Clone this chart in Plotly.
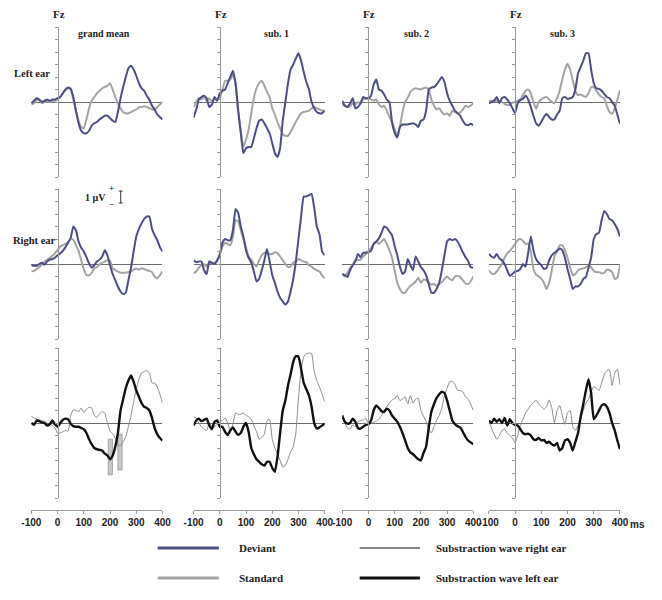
import plotly.graph_objects as go

# time axis, ms (10 ms steps)
t = list(range(-100, 401, 10))

# ---- Left ear: deviant / standard (µV)
gm_left_dev = [-0.1, 0.1, 0.3, 0.2, 0.0, 0.1, 0.2, 0.1, 0.2, 0.2, 0.3,
               0.4, 0.7, 1.0, 1.15, 1.05, 0.4, -0.7, -1.7, -2.3, -2.5,
               -2.5, -2.3, -1.9, -1.7, -1.6, -1.4, -1.25, -1.1, -1.1, -1.3,
               -1.5, -1.6, -0.8, 0.3, 1.2, 2.0, 2.7, 2.9, 2.6, 2.1,
               1.5, 1.1, 0.9, 0.5, 0.2, -0.3, -0.6, -1.0, -1.2, -1.4]
gm_left_std = [-0.2, -0.1, 0.2, 0.1, -0.1, 0.0, 0.1, 0.0, 0.1, 0.1, 0.2,
               0.4, 0.7, 0.95, 1.1, 1.0, 0.2, -0.7, -1.5, -2.0, -2.1,
               -1.4, -0.5, 0.1, 0.4, 0.7, 0.9, 1.1, 1.2, 1.3, 1.5,
               1.0, 0.4, -0.1, -0.5, -0.8, -0.9, -0.9, -0.8, -0.7, -0.6,
               -0.45, -0.4, -0.35, -0.4, -0.5, -0.6, -0.65, -0.4, -0.2, 0.0]
s1_left_dev = [-1.25, -0.6, 0.2, 0.4, 0.5, 0.3, -0.4, -0.2, 0.4, 0.1, 0.7,
               0.9, 1.0, 1.5, 2.0, 2.5, 1.5, -0.6, -2.5, -4.1, -3.7,
               -3.6, -3.6, -2.9, -2.1, -1.5, -1.4, -1.7, -2.1, -2.5, -3.3,
               -4.1, -4.4, -3.7, -1.5, 0.0, 1.5, 2.6, 3.0, 3.5, 3.9,
               3.3, 2.4, 1.6, 1.0, 0.0, -0.5, -0.8, -0.9, -0.9, -0.7]
s1_left_std = [-0.4, 0.0, 0.3, 0.2, 0.4, 0.1, 0.3, 0.0, 0.3, 0.2, 0.3,
               1.0, 1.7, 1.7, 1.8, 2.2, 1.5, -0.8, -2.3, -3.6, -3.0,
               -2.2, -0.9, 0.35, 1.1, 1.5, 1.7, 1.3, 0.8, 0.4, -0.5,
               -1.0, -1.6, -2.1, -2.6, -2.7, -2.7, -2.4, -2.0, -1.6, -1.2,
               -0.9, -0.8, -0.75, -0.7, -0.5, -0.4, -0.5, -0.6, -0.7, -0.7]
s2_left_dev = [0.1, -0.3, -0.4, -0.1, 0.3, -0.5, -0.4, -0.1, 0.4, 0.3, 0.3,
               0.5, 1.4, 1.8, 1.0, 0.9, 0.6, 0.2, 0.0, -1.6, -2.45,
               -2.85, -2.0, -1.8, -1.8, -1.8, -1.75, -1.7, -1.8, -2.0, -1.5,
               -1.4, -0.7, 1.0, 1.15, 1.2, 1.4, 1.7, 2.0, 1.6, 0.7,
               0.1, -0.3, -0.7, -0.9, -1.1, -1.5, -1.8, -1.85, -1.75, -1.85]
s2_left_std = [-0.2, -0.3, -0.4, -0.35, -0.1, -0.2, 0.0, -0.1, 0.2, 0.3, 0.3,
               0.2, 0.1, 0.2, -0.2, -0.4, -0.3, -0.7, -1.2, -1.6, -2.2,
               -2.7, -2.0, -0.8, 0.0, 0.35, 0.8, 1.0, 1.1, 1.05, 1.0,
               1.1, 1.15, 1.0, 0.2, -0.3, -0.6, -0.5, -0.8, -1.0, -0.9,
               -1.1, -0.7, -0.8, -0.9, -0.85, -0.6, -0.3, -0.4, -0.3, -0.1]
s3_left_dev = [-0.1, 0.0, 0.1, 0.4, -0.1, 0.3, 0.4, 0.2, -0.1, -0.5, -0.9,
               -0.1, 0.15, 0.25, 0.5, 0.2, -0.4, -1.1, -1.7, -1.9, -1.6,
               -1.2, -0.95, -1.2, -1.4, -1.4, -1.0, -0.7, 0.3, 0.4, 0.25,
               0.3, 0.4, 1.0, 2.3, 2.8, 3.3, 3.9, 3.9, 2.6, 1.5,
               1.1, 1.05, 0.9, 0.65, 0.4, 0.3, 0.0, -0.3, -1.0, -1.75]
s3_left_std = [0.1, 0.1, 0.1, 0.1, 0.1, 0.0, -0.15, -0.25, -0.2, -0.05, 0.0,
               0.1, 0.2, 0.55, 0.9, 1.0, 0.7, 0.0, -0.55, 0.0, 0.2,
               0.35, 0.4, 0.2, 0.0, -0.1, 0.3, 0.9, 1.8, 2.6, 3.05,
               2.6, 1.75, 0.9, 0.55, 0.6, 0.5, 0.4, 0.7, 1.2, 1.2,
               0.9, 0.6, 0.4, 0.3, -0.3, -0.8, -0.95, -0.5, 0.2, 0.95]

# ---- Right ear: deviant / standard
gm_right_dev = [-0.1, -0.15, -0.15, 0.0, 0.1, -0.05, 0.2, 0.35, 0.4, 0.5, 0.7,
                0.85, 1.05, 1.35, 1.7, 2.1, 3.0, 2.7, 1.8, 1.3, 1.0,
                0.55, 0.05, -0.3, -0.1, 0.2, 0.35, 0.6, 1.1, 0.7, -0.1,
                -0.8, -1.3, -1.8, -2.2, -2.4, -2.3, -1.3, -0.3, 1.0, 2.2,
                2.8, 3.25, 3.6, 3.8, 3.8, 2.8, 2.3, 1.9, 1.35, 1.0]
gm_right_std = [-0.6, -0.55, -0.4, -0.25, -0.05, 0.2, 0.35, 0.5, 0.65, 0.85, 1.1,
                1.4, 1.5, 1.6, 1.75, 2.0, 1.95, 1.5, 1.05, 0.3, -0.4,
                -0.9, -0.9, -0.7, -0.35, -0.25, -0.05, 0.1, 0.2, 0.3, 0.25,
                -0.35, -0.5, -0.6, -0.7, -0.7, -0.7, -0.65, -0.6, -0.45, -0.35,
                -0.45, -0.35, -0.4, -0.5, -0.55, -0.65, -1.0, -1.15, -0.9, -0.6]
s1_right_dev = [0.3, 0.15, 0.2, 0.2, -0.5, -0.8, 0.2, 0.1, 0.0, 0.3, 0.8,
                1.7, 2.0, 1.9, 1.9, 2.7, 4.4, 4.1, 3.0, 2.2, 1.1,
                0.5, 0.1, -0.6, -1.4, -1.2, -0.5, 0.3, 1.2, 0.2, -0.9,
                -1.5, -2.2, -2.7, -3.0, -3.25, -3.0, -2.2, -1.2, 0.2, 2.0,
                3.8, 5.4, 5.4, 5.5, 5.6, 4.5, 3.0, 2.4, 1.0, 0.7]
s1_right_std = [-0.75, -0.6, -0.3, -0.1, 0.0, -0.2, 0.1, 0.05, 0.1, 0.25, 0.7,
                1.4, 1.7, 1.6, 1.5, 2.15, 3.5, 3.4, 2.7, 2.0, 1.3,
                0.6, 0.35, 0.0, -0.2, 0.3, 0.7, 0.9, 0.9, 0.8, 0.8,
                0.95, 0.85, 0.6, 0.3, 0.0, -0.25, -0.2, 0.1, 0.2, 0.4,
                0.3, 0.2, 0.15, -0.1, -0.2, -0.4, -0.5, -0.6, -0.9, -1.15]
s2_right_dev = [-0.8, -0.9, -1.05, -0.5, -0.1, 0.2, 0.8, 0.55, 0.9, 0.9, 0.95,
                1.05, 1.6, 1.8, 2.05, 2.5, 3.0, 2.9, 2.6, 2.3, 1.45,
                0.7, -0.2, -0.8, -0.6, 0.4, -0.1, -0.5, 0.6, 0.2, -0.25,
                -0.5, -0.9, -1.6, -2.3, -2.3, -2.0, -1.5, -0.5, 0.7, 1.8,
                2.0, 1.9, 2.0, 1.8, 1.4, 0.95, 0.55, 0.25, -0.25, -0.3]
s2_right_std = [-0.8, -1.0, -0.7, -0.3, -0.1, 0.35, 0.3, 0.35, 0.6, 0.8, 1.05,
                1.3, 1.6, 1.8, 1.6, 1.8, 2.0, 1.6, 1.1, 0.5, -0.5,
                -1.5, -2.0, -2.3, -2.3, -2.0, -1.75, -1.6, -1.4, -1.1, -1.5,
                -1.25, -1.3, -1.5, -1.65, -1.6, -1.75, -1.6, -1.45, -1.2, -1.0,
                -1.2, -1.3, -1.0, -0.95, -1.05, -1.3, -1.55, -1.6, -1.4, -1.0]
s3_right_dev = [0.8, 0.6, 0.5, 0.8, 0.45, 0.3, 0.0, -0.5, -0.95, -0.8, -0.6,
                -0.55, -0.4, 0.0, -0.2, 0.9, 2.2, 1.1, 0.4, 0.1, -0.1,
                -0.4, -0.3, 0.3, 0.7, 0.9, 1.05, 1.25, 1.1, 0.5, -0.4,
                -1.2, -2.0, -1.8, -1.8, -1.6, -1.2, -1.05, -0.3, 0.5, 2.0,
                2.4, 2.5, 3.5, 4.25, 4.0, 3.6, 3.5, 3.2, 2.8, 2.2]
s3_right_std = [-0.5, -0.75, -0.8, -0.6, -0.3, 0.0, 0.5, 0.85, 1.05, 1.3, 1.6,
                1.9, 2.0, 1.85, 1.6, 1.65, 1.0, -0.4, -0.85, -1.0, -1.15,
                -1.5, -2.0, -1.5, -0.5, 0.6, 1.05, 1.5, 1.5, 1.1, 0.5,
                -0.3, -0.9, -0.8, -0.5, -0.4, -0.35, -0.25, -0.15, -0.25, -0.55,
                -0.65, -0.65, -0.75, -0.7, -0.45, -0.5, -0.65, -1.2, -1.1, -0.1]

# ---- Subtraction waves: right ear (thin) / left ear (thick)
gm_diff_right = [0.55, 0.4, 0.3, 0.25, 0.2, 0.15, 0.0, -0.1, -0.2, -0.4, -0.8,
                 -0.8, -0.7, -0.6, -0.65, 0.6, 1.05, 1.0, 0.9, 1.2, 0.85,
                 1.1, 1.25, 1.2, 0.6, 0.45, 0.75, 0.9, 0.8, 0.0, -0.65,
                 -0.85, -1.2, -1.75, -1.85, -1.5, -1.1, -0.3, 0.6, 1.7, 2.7,
                 3.5, 4.0, 4.1, 4.2, 4.0, 3.2, 3.2, 2.9, 2.3, 1.6]
gm_diff_left = [0.0, -0.15, 0.2, 0.15, 0.05, 0.0, -0.2, -0.1, 0.2, -0.1, -0.3,
                0.0, 0.25, 0.35, 0.3, -0.05, -0.25, -0.3, -0.3, -0.4, -0.5,
                -0.8, -1.3, -1.7, -2.0, -2.1, -2.15, -2.2, -2.45, -2.6, -2.9,
                -2.6, -1.9, -0.8, 1.0, 1.9, 2.8, 3.4, 3.8, 3.3, 2.6,
                2.1, 1.6, 1.3, 1.2, 1.0, 0.4, -0.4, -0.9, -1.2, -1.4]
s1_diff_right = [0.5, 0.4, 0.0, -0.3, -0.5, -0.6, 0.0, -0.3, -0.3, -0.1, 0.1,
                 0.2, 0.4, 0.0, -0.6, -0.1, 0.8, 0.7, 0.7, 0.8, 0.6,
                 0.5, 0.3, -0.2, -0.7, -1.3, -1.15, -0.9, 0.2, 0.3, -1.3,
                 -2.0, -2.5, -3.0, -3.5, -3.4, -2.9, -2.3, -1.9, -0.8, 2.0,
                 4.2, 5.3, 5.55, 5.6, 5.55, 4.1, 3.4, 2.9, 2.3, 1.7]
s1_diff_left = [-0.2, 0.2, 0.35, 0.15, 0.25, 0.35, -0.2, -0.5, 0.1, 0.2, -0.3,
                -0.3, -0.7, -0.95, -0.6, -0.35, -0.7, -0.95, -0.8, -0.3, 0.0,
                -0.7, -2.0, -2.5, -2.9, -3.1, -3.3, -3.4, -3.1, -3.1, -3.6,
                -3.9, -2.7, -0.8, 1.0, 1.8, 3.0, 3.9, 4.9, 5.35, 5.3,
                4.35, 3.2, 2.7, 2.2, 1.3, 0.0, -0.45, -0.35, -0.2, -0.05]
s2_diff_right = [0.35, 0.0, -0.4, -0.5, -0.15, -0.3, 0.1, 0.2, 0.25, 0.4, -0.05,
                 0.0, 0.05, 0.15, 0.3, 0.6, 1.0, 1.3, 1.6, 1.85, 1.95,
                 2.2, 1.8, 1.9, 2.1, 1.55, 2.2, 1.6, 1.9, 2.0, 1.0,
                 0.55, 0.1, -0.5, -0.8, -0.3, 0.2, 0.6, 1.2, 2.2, 2.8,
                 3.3, 3.35, 3.1, 2.6, 2.6, 2.5, 2.1, 1.95, 1.5, 1.0]
s2_diff_left = [0.6, 0.1, -0.05, 0.0, 0.35, 0.1, -0.4, -0.45, -0.3, -0.15, -0.1,
                0.2, 1.0, 1.4, 1.2, 0.95, 0.9, 1.15, 1.0, 0.6, 0.35,
                0.1, -0.3, -0.8, -1.4, -2.0, -2.35, -2.5, -2.7, -2.9, -3.0,
                -2.4, -1.9, -0.4, 0.9, 1.5, 2.0, 2.3, 2.5, 2.4, 1.8,
                1.0, 0.2, -0.1, -0.25, -0.35, -0.7, -1.1, -1.4, -1.55, -1.7]
s3_diff_right = [0.2, -0.4, -0.9, -1.3, -1.0, -0.6, -0.5, -0.8, -1.0, -1.2, -1.6,
                 -1.0, -0.2, 0.3, 0.8, 1.1, 1.45, 1.6, 1.85, 1.5, 1.3,
                 1.1, 1.3, 1.85, 1.2, 0.0, 1.0, 1.4, 0.6, -0.1, 0.8,
                 1.0, -0.3, -0.6, -0.2, 0.3, 1.0, 1.6, 1.9, 2.5, 2.9,
                 2.8, 2.6, 3.2, 3.85, 4.2, 4.25, 3.0, 4.0, 4.3, 3.05]
s3_diff_left = [0.2, 0.0, 0.35, 0.1, 0.3, 0.0, 0.4, -0.2, 0.3, 0.0, -0.15,
                -0.2, -0.5, -0.8, -0.9, -0.85, -1.0, -1.3, -1.35, -1.2, -1.4,
                -1.35, -1.6, -1.5, -1.7, -1.8, -1.6, -2.2, -2.0, -1.4, -1.3,
                -1.6, -2.2, -1.5, -0.8, 0.5, 1.5, 2.6, 3.5, 2.4, 0.3,
                0.6, 1.0, 1.4, 1.5, 1.3, 0.8, 0.0, -0.6, -1.4, -2.1]

col_titles = ["grand mean", "sub. 1", "sub. 2", "sub. 3"]
row_titles = ["Left ear", "Right ear"]
tick_ms = [-100, 0, 100, 200, 300, 400]
tick_txt = ["-100", "0", "100", "200", "300", "400"]
legend_labels = ["Deviant", "Standard", "Substraction wave right ear", "Substraction wave left ear"]

DEV = "#4c4f84"
STD = "#a4a4a4"
SUB_R = "#8a8a8a"
SUB_L = "#111111"
AX = "#9a9a9a"
W, H = 662, 600

# pixel positions of panels
zero_x = [49, 216, 369, 520]
zero_y = [102, 264, 423]

def px(x):
    return x / W

def py(y):
    return 1 - y / H

rows = [
    [(gm_left_std, gm_left_dev), (s1_left_std, s1_left_dev), (s2_left_std, s2_left_dev), (s3_left_std, s3_left_dev)],
    [(gm_right_std, gm_right_dev), (s1_right_std, s1_right_dev), (s2_right_std, s2_right_dev), (s3_right_std, s3_right_dev)],
    [(gm_diff_right, gm_diff_left), (s1_diff_right, s1_diff_left), (s2_diff_right, s2_diff_left), (s3_diff_right, s3_diff_left)],
]

fig = go.Figure()
layout = {}
k = 0
for r in range(3):
    for c in range(4):
        k += 1
        a, b = rows[r][c]
        if r < 2:
            st_a = dict(color=STD, width=2)
            st_b = dict(color=DEV, width=2)
        else:
            st_a = dict(color=SUB_R, width=1)
            st_b = dict(color=SUB_L, width=2.4)
        for ys, st in ((a, st_a), (b, st_b)):
            fig.add_trace(go.Scatter(x=t, y=ys, mode="lines", line=dict(shape="spline", smoothing=0.4, **st),
                                     xaxis=f"x{k}", yaxis=f"y{k}", showlegend=False, hoverinfo="skip"))
        xd = [px(zero_x[c] - 27), px(zero_x[c] + 108)]
        yd = [py(zero_y[r] + 75), py(zero_y[r] - 75)]
        xa = dict(domain=xd, range=[-100, 400], showgrid=False, zeroline=False, fixedrange=True)
        if r < 2:
            xa.update(visible=False, anchor=f"y{k}")
        else:
            xa.update(anchor="free", position=py(510), showline=True, linecolor=AX, linewidth=1,
                      ticks="outside", ticklen=3, tickcolor=AX, tickvals=tick_ms, ticktext=tick_txt,
                      tickfont=dict(family="Liberation Sans", size=10, color="#222", weight="bold"))
        ya = dict(domain=yd, range=[-6, 6], anchor="free", position=px(zero_x[c]),
                  showline=True, linecolor=AX, linewidth=1, ticks="outside", ticklen=3, tickcolor=AX,
                  dtick=1, showticklabels=False, showgrid=False,
                  zeroline=True, zerolinecolor="#6e6e6e", zerolinewidth=1, fixedrange=True)
        layout[f"xaxis{k}"] = xa
        layout[f"yaxis{k}"] = ya

serif = "Liberation Serif"
ann = []

def note(x, y, text, size, family=serif, xanchor="center"):
    ann.append(dict(x=px(x), y=py(y), xref="paper", yref="paper", xanchor=xanchor, yanchor="middle",
                    text=f"<b>{text}</b>", showarrow=False, font=dict(family=family, size=size, color="#222")))

for c in range(4):
    note(zero_x[c] + 1, 14, "Fz", 11)
title_x = [97, 274, 419, 569]
for c in range(4):
    note(title_x[c], 33, col_titles[c], 10)
note(2, 74, row_titles[0], 10.5, xanchor="left")
note(1, 241, row_titles[1], 10.5, xanchor="left")
# 1 µV scale
note(88, 197, "1 µV", 10)
note(104, 188, "+", 9)
note(104, 204, "−", 9)
note(646, 524, "ms", 10, family="Liberation Sans")
# legend texts
leg_pos = [(234, 548), (234, 578), (437, 548), (437, 578)]
for lab, (lx, ly) in zip(legend_labels, leg_pos):
    note(lx, ly, lab, 11, xanchor="left")

shapes = []
leg_lines = [(152, 215, 548, DEV, 3), (152, 215, 578, STD, 3), (360, 422, 548, SUB_L, 1), (360, 422, 578, SUB_L, 3)]
for x0, x1, yy, col, w in leg_lines:
    shapes.append(dict(type="line", xref="paper", yref="paper", x0=px(x0), x1=px(x1), y0=py(yy), y1=py(yy),
                       line=dict(color=col, width=w)))
# scale bar
shapes.append(dict(type="line", xref="paper", yref="paper", x0=px(114), x1=px(114), y0=py(191), y1=py(203),
                   line=dict(color="#333", width=1)))
for yy in (191, 203):
    shapes.append(dict(type="line", xref="paper", yref="paper", x0=px(112), x1=px(116), y0=py(yy), y1=py(yy),
                       line=dict(color="#333", width=1)))
# grey latency windows on grand mean subtraction panel
shapes.append(dict(type="rect", xref="x9", yref="y9", x0=193, x1=209, y0=-4.15, y1=-1.3,
                   fillcolor="#c8c8c8", line=dict(color="#a8a8a8", width=1), layer="below"))
shapes.append(dict(type="rect", xref="x9", yref="y9", x0=230, x1=246, y0=-3.75, y1=-0.9,
                   fillcolor="#c8c8c8", line=dict(color="#a8a8a8", width=1), layer="below"))

fig.update_layout(width=W, height=H, autosize=False, margin=dict(l=0, r=0, t=0, b=0),
                  paper_bgcolor="white", plot_bgcolor="rgba(0,0,0,0)",
                  annotations=ann, shapes=shapes, showlegend=False, **layout)

# page margin and scrollbars off so the 662x600 figure fills the window exactly
fig.write_html("out.html", config={"displayModeBar": False, "responsive": False},
               post_script="document.body.style.margin='0';document.body.style.overflow='hidden';")
